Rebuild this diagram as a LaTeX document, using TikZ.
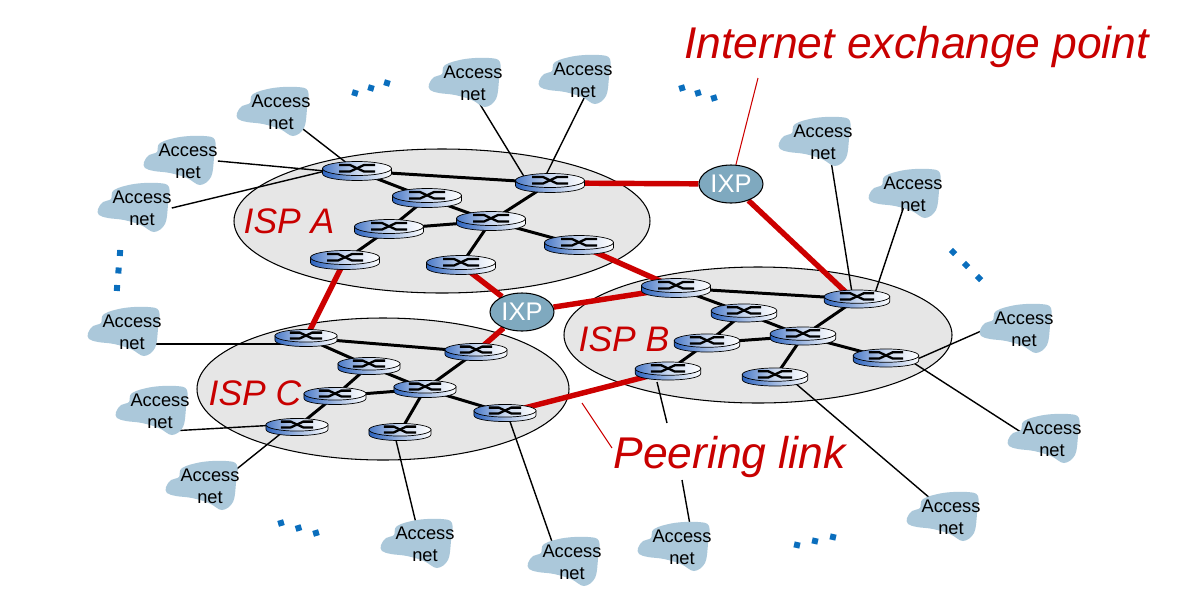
\documentclass[tikz,border=0pt]{standalone}
\usepackage{fontspec}
\setmainfont{Liberation Sans}
\usetikzlibrary{shapes.geometric,calc}
\pgfdeclarelayer{bg}\pgfdeclarelayer{edges}
\pgfsetlayers{bg,edges,main}
\definecolor{cloudc}{HTML}{ABC8DA}
\definecolor{ispc}{HTML}{E6E6E6}
\definecolor{redc}{HTML}{CC0000}
\definecolor{labc}{HTML}{C80000}
\definecolor{ixpc}{HTML}{7FA9BF}
\definecolor{dotc}{HTML}{0A6EBD}
\definecolor{rblue}{HTML}{2A62BE}
\tikzset{
 x=0.02cm,y=-0.02cm,
 isp/.style={fill=ispc,draw=black,line width=0.6pt},
 isplab/.style={text=labc,font=\fontsize{20.2}{22}\selectfont\itshape},
 biglab/.style={text=labc,font=\fontsize{25.3}{28}\selectfont\itshape,inner sep=0pt},
 accnode/.style={font=\fontsize{10.4}{12.5}\selectfont,align=center,inner sep=0pt,text=black},
 rnode/.style={inner sep=0pt,minimum width=1.25cm,minimum height=0.36cm},
 ixpnode/.style={ellipse,draw=black,line width=0.6pt,fill=ixpc,minimum width=1.28cm,minimum height=0.76cm,inner sep=0pt,text=white,font=\fontsize{14.5}{16}\selectfont},
 rlink/.style={black,line width=1.7pt},
 thinlink/.style={black,line width=0.8pt},
 peer/.style={redc,line width=3.1pt},
 callout/.style={redc,line width=0.6pt},
 dotm/.style={fill=dotc,minimum size=0.12cm,inner sep=0pt},
}
\newcommand{\router}[4]{%
 \node[rnode] (#1) at (#2,#3) {};
 \begin{scope}[shift={(#2,#3)},scale=#4]
  \path[draw=black,line width=0.4pt,left color=rblue,right color=white,middle color=rblue!45!white]
    (-34.5,-2.5) -- (-34.5,2.5) .. controls (-34.5,11.8) and (34.5,11.8) .. (34.5,2.5) -- (34.5,-2.5) -- cycle;
  \path[draw=black,line width=0.4pt,left color=rblue!85!white,right color=white,middle color=rblue!25!white]
    (0,-2.5) ellipse [x radius=34.5,y radius=7];
  \draw[black,line width=1.3pt] (-18,-6) -- (-7,-6) -- (7,0.5) -- (18,0.5);
  \draw[black,line width=1.3pt] (-18,0.5) -- (-7,0.5) -- (7,-6) -- (18,-6);
 \end{scope}}
\newcommand{\accessnet}[3]{%
 \fill[cloudc,shift={(#2,#3)}] plot[smooth cycle,tension=0.6] coordinates {(-43,2) (-38,-5) (-30,-8) (-27,-17) (-7,-23) (17,-24) (28,-20) (27,-2) (24,17) (13,25) (0,18) (-17,13) (-33,11) (-42,8)};
 \node[accnode] (#1) at (#2+1,#3+1) {Access\\net};}
\newcommand{\dotrow}[6]{%
 \node[dotm,rotate=#6] (#1a) at (#2,#3) {};
 \node[dotm,rotate=#6] (#1b) at ($(#2,#3)!0.5!(#4,#5)$) {};
 \node[dotm,rotate=#6] (#1c) at (#4,#5) {};}
\begin{document}
\begin{tikzpicture}
\useasboundingbox (0,0) rectangle (1177,596);
\begin{pgfonlayer}{bg}
 \path[isp] (442,221) ellipse [x radius=208,y radius=72];
 \path[isp] (758,335) ellipse [x radius=194,y radius=68];
 \path[isp] (383,389) ellipse [x radius=186,y radius=71];
\end{pgfonlayer}
% ISP labels
\node[isplab] (ispa) at (289,221) {ISP A};
\node[isplab] (ispb) at (624,339) {ISP B};
\node[isplab] (ispc) at (255,393) {ISP C};
% dots
\dotrow{da}{355}{93}{387}{83}{-17}
\dotrow{db}{682}{88}{714}{98}{17}
\dotrow{dc}{953}{252}{979}{278}{45}
\dotrow{dd}{120}{253}{117}{288}{-5}
\dotrow{de}{281}{523}{316}{533}{17}
\dotrow{df}{797}{545}{833}{537}{-13}
% access nets
\accessnet{n1}{280}{111}
\accessnet{n2}{187}{160}
\accessnet{n3}{141}{207}
\accessnet{n4}{472}{82}
\accessnet{n5}{582}{79}
\accessnet{n6}{822}{141}
\accessnet{n7}{912}{193}
\accessnet{n8}{1023}{328}
\accessnet{n9}{1051}{438}
\accessnet{n10}{950}{516}
\accessnet{n11}{681}{546}
\accessnet{n12}{571}{561}
\accessnet{n13}{424}{543}
\accessnet{n14}{209}{485}
\accessnet{n15}{159}{410}
\accessnet{n16}{131}{331}
% routers A
\router{a2}{427}{198}{1}
\router{a1}{357}{171}{1}
\router{a3}{550}{183}{1}
\router{a5}{389}{229}{1}
\router{a4}{491}{221}{1}
\router{a6}{345}{260}{1}
\router{a7}{461}{265}{1}
\router{a8}{579}{245}{1}
% routers B
\router{b1}{676}{288}{1}
\router{b2}{857}{299}{0.95}
\router{b3}{744}{313}{0.95}
\router{b5}{803}{336}{0.95}
\router{b4}{707}{343}{0.95}
\router{b6}{886}{358}{0.95}
\router{b8}{775}{377}{0.95}
\router{b7}{668}{371}{0.95}
% routers C
\router{c1}{306}{338}{0.9}
\router{c2}{476}{352}{0.9}
\router{c3}{369}{366}{0.9}
\router{c4}{425}{389}{0.9}
\router{c5}{335}{396}{0.9}
\router{c6}{297}{427}{0.9}
\router{c7}{400}{432}{0.9}
\router{c8}{505}{413}{0.9}
% IXPs
\node[ixpnode] (ixp1) at (731,184) {IXP};
\node[ixpnode] (ixp2) at (522,312) {IXP};
% labels
\node[biglab,anchor=center] (lixp) at (916.5,47) {Internet exchange point};
\node[biglab,anchor=center] (lpeer) at (729.5,457) {Peering link};
\coordinate (cixp) at (758,78);
\coordinate (cpeer) at (582,403);
\coordinate (cpeerend) at (612,448);
\coordinate (b7f) at (657,382);
\coordinate (b7g) at (667,423);
\coordinate (n11g) at (682,480);
\begin{pgfonlayer}{edges}
 % ISP A
 \draw[rlink] (a1.center) -- (a3.center);
 \draw[rlink] (a1.center) -- (a2.center);
 \draw[rlink] (a2.center) -- (a4.center);
 \draw[rlink] (a2.center) -- (a5.center);
 \draw[rlink] (a5.center) -- (a4.center);
 \draw[rlink] (a5.center) -- (a6.center);
 \draw[rlink] (a3.center) -- (a4.center);
 \draw[rlink] (a4.center) -- (a7.center);
 \draw[rlink] (a4.center) -- (a8.center);
 % ISP B
 \draw[rlink] (b1.center) -- (b2.center);
 \draw[rlink] (b1.center) -- (b3.center);
 \draw[rlink] (b3.center) -- (b5.center);
 \draw[rlink] (b3.center) -- (b4.center);
 \draw[rlink] (b4.center) -- (b5.center);
 \draw[rlink] (b4.center) -- (b7.center);
 \draw[rlink] (b2.center) -- (b5.center);
 \draw[rlink] (b5.center) -- (b8.center);
 \draw[rlink] (b5.center) -- (b6.center);
 % ISP C
 \draw[rlink] (c1.center) -- (c2.center);
 \draw[rlink] (c1.center) -- (c3.center);
 \draw[rlink] (c3.center) -- (c4.center);
 \draw[rlink] (c3.center) -- (c5.center);
 \draw[rlink] (c5.center) -- (c4.center);
 \draw[rlink] (c5.center) -- (c6.center);
 \draw[rlink] (c2.center) -- (c4.center);
 \draw[rlink] (c4.center) -- (c7.center);
 \draw[rlink] (c4.center) -- (c8.center);
 % peering
 \draw[peer] (a3.center) -- (ixp1);
 \draw[peer] (ixp1) -- ($(b2.center)-(4,0)$);
 \draw[peer] (a8.center) -- (b1.center);
 \draw[peer] (a7.center) -- (ixp2);
 \draw[peer] (ixp2) -- (b1.center);
 \draw[peer] (ixp2) -- (c2.center);
 \draw[peer] (a6.center) -- (c1.center);
 \draw[peer] (c8.center) -- (b7.center);
 % access
 \draw[thinlink] (n1.center) -- (a1.center);
 \draw[thinlink] (n2.east) -- (a1.west);
 \draw[thinlink] (n3.east) -- (a1.west);
 \draw[thinlink] ($(n4.center)+(-6,0)$) -- ($(a3.center)+(-22,0)$);
 \draw[thinlink] ($(n5.center)+(10,0)$) -- ($(a3.center)+(-8,0)$);
 \draw[thinlink] ($(n6.center)+(5,0)$) -- ($(b2.center)+(-4,0)$);
 \draw[thinlink] ($(n7.center)+(-5,0)$) -- ($(b2.center)+(16,0)$);
 \draw[thinlink] ($(n8.center)+(-20,-8)$) -- ($(b6.center)+(20,6)$);
 \draw[thinlink] ($(n9.center)+(-25,-3)$) -- ($(b6.center)+(20,0)$);
 \draw[thinlink] ($(n10.center)+(-20,-18)$) -- ($(b8.center)+(20,6)$);
 \draw[thinlink] (b7f) -- (b7g);
 \draw[thinlink] (n11g) -- ($(n11.center)+(12,0)$);
 \draw[thinlink] ($(n12.center)+(-15,-6)$) -- ($(c8.center)+(2,0)$);
 \draw[thinlink] ($(n13.center)+(-4,0)$) -- ($(c7.center)+(-6,0)$);
 \draw[thinlink] ($(n14.center)+(18,-10)$) -- ($(c6.center)+(-8,0)$);
 \draw[thinlink] ($(n15.center)+(10,20)$) -- ($(c6.center)+(-20,-2)$);
 \draw[thinlink] ($(n16.center)+(20,12)$) -- ($(c1.center)+(-20,6)$);
 % callouts
 \draw[callout] (cixp) -- (ixp1);
 \draw[callout] (cpeer) -- (cpeerend);
\end{pgfonlayer}
\end{tikzpicture}
\end{document}
